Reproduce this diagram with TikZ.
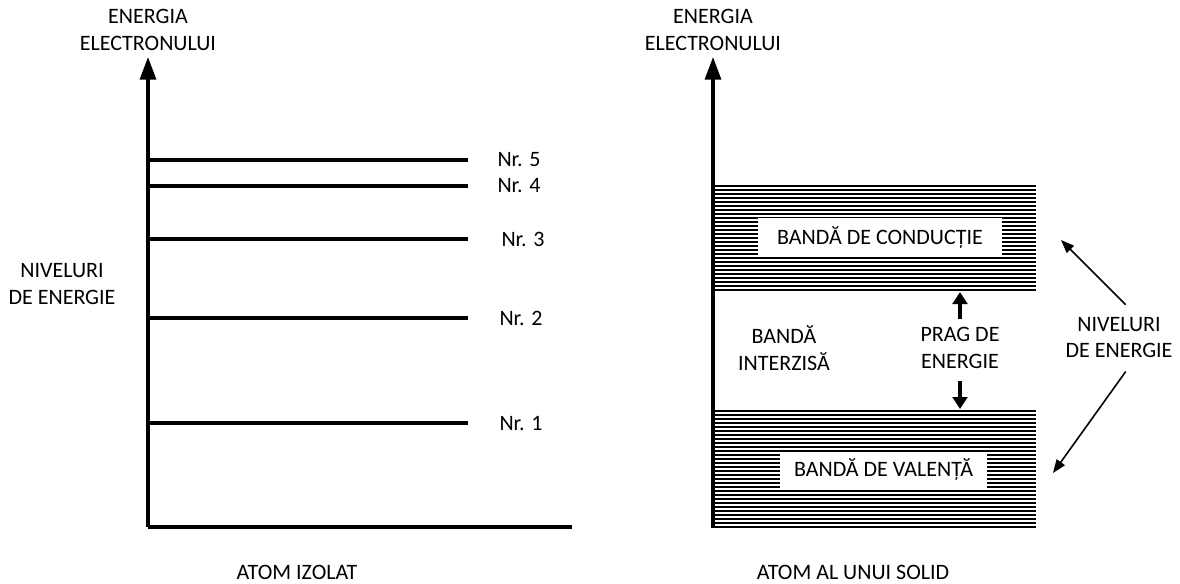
\documentclass[tikz,border=0pt]{standalone}
\usepackage{fontspec}
\setmainfont{Carlito}
\usetikzlibrary{calc,positioning,arrows.meta}

\begin{document}
\begin{tikzpicture}[x=0.75pt,y=-0.75pt,
  txt/.style={font=\fontsize{16.5}{20}\selectfont,align=center,inner sep=0pt},
  axisline/.style={line width=2.4pt},
  axisarrow/.style={line width=2.4pt,-{Triangle[length=17pt,width=12pt]}},
  level/.style={line width=2.3pt},
  stripe/.style={line width=1.8pt},
  gaparrow/.style={line width=2.4pt,-{Triangle[length=9pt,width=11pt]}},
  pointer/.style={line width=1.2pt,-{Triangle[length=10pt,width=7.5pt]}},
  bandbox/.style={txt,fill=white}]
  \useasboundingbox (0,0) rectangle (1180,583);
  % atom izolat
  \coordinate (ol) at (148,527);
  \coordinate (yl) at (148,57);
  \coordinate (xl) at (572,527);
  \draw[axisline] (ol)--(xl);
  \draw[axisarrow] (ol)--(yl);
  \node[txt] (enl) at (148,30) {ENERGIA\\ELECTRONULUI};
  \node[txt] (nivl) at (62,284) {NIVELURI\\DE ENERGIE};
  \foreach \n/\y/\lx in {5/160/519,4/186/519,3/239/523,2/318/521,1/423/521}{
    \coordinate (a\n) at (148,\y);
    \coordinate (b\n) at (468,\y);
    \draw[level] (a\n)--(b\n);
    \node[txt] (nr\n) at (\lx,\y) {Nr. \n};
  }
  \node[txt] (izolat) at (297,572) {ATOM IZOLAT};
  % atom al unui solid
  \coordinate (or) at (713,528);
  \coordinate (yr) at (713,57);
  \foreach \y in {186,190,...,290}
    \draw[stripe] (713,\y)--(1036,\y);
  \foreach \y in {411,415,...,527}
    \draw[stripe] (713,\y)--(1036,\y);
  \draw[axisarrow] (or)--(yr);
  \node[txt] (enr) at (713,30) {ENERGIA\\ELECTRONULUI};
  \node[bandbox,minimum width=183pt,minimum height=29pt] (cond) at (880,237.5) {BANDĂ DE CONDUCȚIE};
  \node[bandbox,minimum width=155pt,minimum height=27pt] (val) at (883.5,470) {BANDĂ DE VALENȚĂ};
  \node[txt] (interz) at (784,348) {BANDĂ\\INTERZISĂ};
  \node[txt] (prag) at (960,348) {PRAG DE\\ENERGIE};
  \coordinate (cbot) at (960,292);
  \coordinate (vtop) at (960,409);
  \draw[gaparrow] ([yshift=6pt]prag.north)--(cbot);
  \draw[gaparrow] ([yshift=-9pt]prag.south)--(vtop);
  \node[txt] (nivr) at (1119,337.5) {NIVELURI\\DE ENERGIE};
  \coordinate (ctip) at (1061,240);
  \coordinate (vtip) at (1053,473);
  \draw[pointer] ([shift={(5pt,9pt)}]nivr.north)--(ctip);
  \draw[pointer] ([shift={(5pt,-10pt)}]nivr.south)--(vtip);
  \node[txt] (solid) at (853,572) {ATOM AL UNUI SOLID};
\end{tikzpicture}
\end{document}
